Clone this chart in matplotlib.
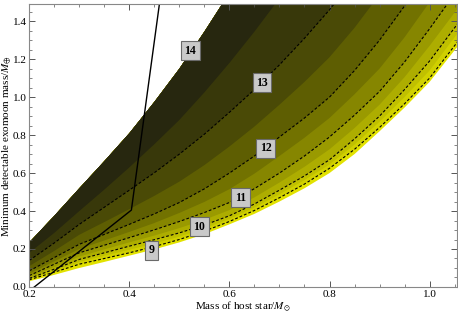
import matplotlib
matplotlib.use('Agg')
import matplotlib.pyplot as plt
from matplotlib.ticker import MultipleLocator, FormatStrFormatter

plt.rcParams['font.family'] = ['Liberation Serif', 'DejaVu Serif']
plt.rcParams['mathtext.fontset'] = 'stix'

# stellar mass grid (M_sun)
star_mass = [0.2, 0.25, 0.3, 0.35, 0.4, 0.45, 0.5, 0.55, 0.6, 0.65, 0.7, 0.75,
             0.8, 0.85, 0.9, 0.95, 1.0, 1.06]

# minimum detectable moon mass (M_earth) along each magnitude contour
edge_low = [0.030, 0.064, 0.100, 0.132, 0.165, 0.198, 0.235, 0.278, 0.330, 0.385,
            0.450, 0.520, 0.600, 0.700, 0.820, 0.945, 1.080, 1.280]
mag_9 = [0.038, 0.078, 0.120, 0.150, 0.180, 0.213, 0.250, 0.294, 0.345, 0.403,
         0.470, 0.542, 0.625, 0.725, 0.840, 0.965, 1.100, 1.305]
mag_9_5 = [0.041, 0.085, 0.132, 0.164, 0.196, 0.229, 0.265, 0.308, 0.358, 0.418,
           0.488, 0.563, 0.645, 0.750, 0.870, 1.000, 1.140, 1.350]
mag_10 = [0.045, 0.094, 0.145, 0.180, 0.215, 0.249, 0.285, 0.326, 0.375, 0.437,
          0.510, 0.585, 0.670, 0.780, 0.900, 1.040, 1.190, 1.400]
mag_10_5 = [0.052, 0.105, 0.160, 0.198, 0.235, 0.271, 0.310, 0.354, 0.405, 0.472,
            0.550, 0.633, 0.725, 0.837, 0.960, 1.105, 1.270, 1.480]
mag_11 = [0.060, 0.120, 0.180, 0.220, 0.260, 0.301, 0.345, 0.392, 0.445, 0.518,
          0.600, 0.690, 0.790, 0.905, 1.030, 1.185, 1.360, 1.580]
mag_11_5 = [0.070, 0.135, 0.200, 0.245, 0.290, 0.337, 0.390, 0.448, 0.515, 0.597,
            0.690, 0.786, 0.890, 1.015, 1.150, 1.315, 1.500, 1.750]
mag_12 = [0.085, 0.155, 0.225, 0.277, 0.330, 0.385, 0.445, 0.517, 0.600, 0.690,
          0.790, 0.890, 1.000, 1.140, 1.300, 1.480, 1.680, 1.950]
mag_12_5 = [0.110, 0.190, 0.275, 0.342, 0.410, 0.480, 0.555, 0.642, 0.740, 0.845,
            0.960, 1.080, 1.210, 1.365, 1.540, 1.735, 1.950, 2.200]
mag_13 = [0.140, 0.232, 0.330, 0.420, 0.510, 0.602, 0.700, 0.805, 0.920, 1.040,
          1.170, 1.310, 1.460, 1.625, 1.800, 1.990, 2.200, 2.500]
mag_13_5 = [0.180, 0.285, 0.400, 0.513, 0.630, 0.752, 0.880, 1.025, 1.180, 1.345,
            1.520, 1.705, 1.900, 2.100, 2.300, 2.550, 2.800, 3.200]
mag_14 = [0.235, 0.375, 0.520, 0.663, 0.810, 0.975, 1.150, 1.345, 1.550, 1.770,
          2.000, 2.250, 2.500, 2.750, 3.000, 3.300, 3.600, 4.000]

# solid limit line
limit_x = [0.21, 0.404, 0.46]
limit_y = [0.0, 0.405, 1.49]

# contour labels
label_text = ['14', '13', '12', '11', '10', '9']
label_x = [0.522, 0.665, 0.672, 0.622, 0.540, 0.445]
label_y = [1.245, 1.075, 0.730, 0.470, 0.318, 0.193]

band_edges = [edge_low, mag_9, mag_9_5, mag_10, mag_10_5, mag_11, mag_11_5,
              mag_12, mag_12_5, mag_13, mag_13_5]
band_colors = ['#e2e200', '#d0d000', '#c0c000', '#adad00', '#9a9a00', '#868600',
               '#727200', '#5e5e02', '#4a4a06', '#38380a', '#27270f']
dashed = [mag_9, mag_10, mag_11, mag_12, mag_13]

fig = plt.figure(figsize=(4.58, 3.15), dpi=100)
ax = fig.add_axes([0.064, 0.089, 0.934, 0.898])

# paint from bottom up so bands stack without seams
for lower, col in zip(band_edges, band_colors):
    ax.fill_between(star_mass, lower, mag_14, color=col, lw=0)

for curve in dashed:
    ax.plot(star_mass, curve, color='black', lw=0.8, ls=(0, (2.5, 1.8)))

ax.plot(limit_x, limit_y, color='black', lw=1.0)

for t, lx, ly in zip(label_text, label_x, label_y):
    ax.text(lx, ly, t, ha='center', va='center', fontsize=8.5, fontweight='bold',
            bbox=dict(boxstyle='square,pad=0.3', fc='#c9c9c9', ec='#6a6a6a', lw=0.8),
            zorder=5)

ax.set_xlim(0.2, 1.055)
ax.set_ylim(0.0, 1.49)
ax.xaxis.set_major_locator(MultipleLocator(0.2))
ax.xaxis.set_minor_locator(MultipleLocator(0.05))
ax.yaxis.set_major_locator(MultipleLocator(0.2))
ax.yaxis.set_minor_locator(MultipleLocator(0.05))
ax.xaxis.set_major_formatter(FormatStrFormatter('%.1f'))
ax.yaxis.set_major_formatter(FormatStrFormatter('%.1f'))
ax.tick_params(which='both', direction='in', top=True, right=True,
               color='#555555', labelsize=8, pad=2)
ax.tick_params(which='major', length=4, width=0.7)
ax.tick_params(which='minor', length=2, width=0.5)
for s in ax.spines.values():
    s.set_color('#888888')
    s.set_linewidth(0.8)

ax.set_xlabel(r'Mass of host star/$M_{\odot}$', fontsize=8, labelpad=1)
ax.set_ylabel(r'Minimum detectable exomoon mass/$M_{\oplus}$', fontsize=8)
ax.yaxis.set_label_coords(-0.038, 0.5)

fig.savefig('out.png', dpi=100)
